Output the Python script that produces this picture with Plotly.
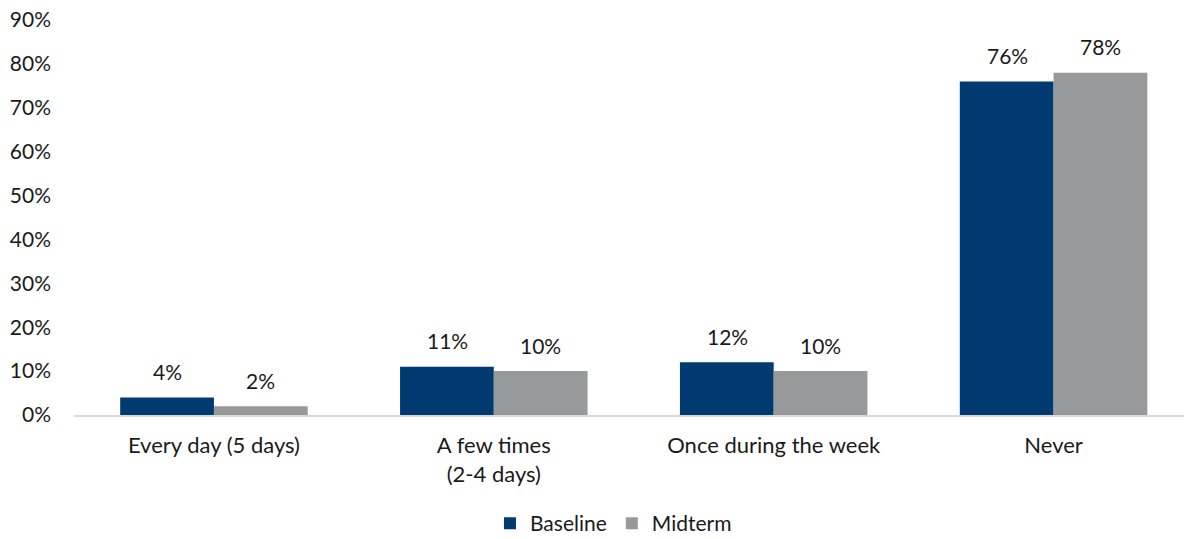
import plotly.graph_objects as go

categories = ["Every day (5 days)", "A few times<br>(2-4 days)", "Once during the week", "Never"]
baseline = [4, 11, 12, 76]
midterm = [2, 10, 10, 78]
series_names = ["Baseline", "Midterm"]
tick_vals = [0, 10, 20, 30, 40, 50, 60, 70, 80, 90]
tick_text = [f"{v}%" for v in tick_vals]

colors = ["#003A70", "#98999B"]
font_family = "Lato, 'Open Sans', sans-serif"
FS = 21

fig = go.Figure()
for name, vals, col in zip(series_names, [baseline, midterm], colors):
    fig.add_trace(go.Bar(
        x=categories, y=vals, name=name, marker_color=col,
        marker_line_width=0, cliponaxis=False,
    ))

# data labels above bars
for vals, shift in zip([baseline, midterm], [-46.5, 46.5]):
    for c, v in zip(categories, vals):
        fig.add_annotation(x=c, y=v, text=f"{v}%", showarrow=False,
                           xshift=shift, yshift=26, yanchor="middle",
                           font=dict(size=FS, color="#1a1a1a", family=font_family))

fig.update_layout(
    width=1184, height=539,
    margin=dict(l=74, r=0, t=20, b=124, autoexpand=False),
    barmode="group", bargap=0.33, bargroupgap=0,
    plot_bgcolor="white", paper_bgcolor="white",
    font=dict(family=font_family, size=FS, color="#1a1a1a"),
    legend=dict(orientation="h", x=0.486, xanchor="center", y=-0.275, yanchor="middle",
                font=dict(size=21), traceorder="normal", itemwidth=30,
                borderwidth=0),
    showlegend=True,
)
fig.update_yaxes(range=[0, 90], tickvals=tick_vals, ticktext=tick_text,
                 showgrid=False, zeroline=False, showline=False, automargin=False,
                 ticklabelstandoff=22, tickfont=dict(size=FS))
fig.update_xaxes(range=[-0.5, 3.466], showline=True, linecolor="#D9D9D9", linewidth=2,
                 automargin=False, ticks="", ticklabelstandoff=10, tickfont=dict(size=22))

fig.write_html("out.html", config={"displayModeBar": False},
               post_script="document.body.style.margin='0';document.body.style.overflow='hidden';")
